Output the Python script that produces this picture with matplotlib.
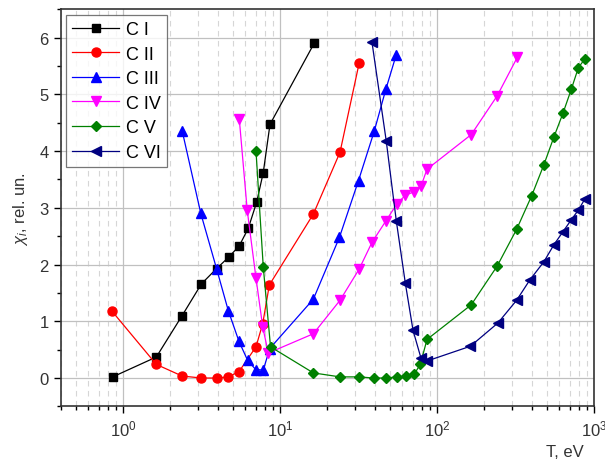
import matplotlib
matplotlib.use("Agg")
import matplotlib.pyplot as plt
from matplotlib.ticker import LogLocator, MultipleLocator, NullFormatter

plt.rcParams["font.family"] = ["Liberation Sans", "DejaVu Sans"]
plt.rcParams["mathtext.fontset"] = "custom"
plt.rcParams["mathtext.rm"] = "Liberation Sans"
plt.rcParams["mathtext.it"] = "Liberation Sans:italic"

# -------------------------------
# Data: ion fractions vs temperature
# -------------------------------
t_c1 = [0.86, 1.63, 2.38, 3.16, 3.95, 4.75, 5.5, 6.28, 7.1, 7.82, 8.63, 16.5]
y_c1 = [0.02, 0.37, 1.10, 1.66, 1.93, 2.14, 2.33, 2.64, 3.10, 3.62, 4.47, 5.90]

t_c2 = [0.85, 1.63, 2.38, 3.16, 3.95, 4.68, 5.47, 7.03, 7.76, 8.55, 16.3, 24.1, 31.9]
y_c2 = [1.18, 0.24, 0.035, 0.0, 0.0, 0.02, 0.11, 0.55, 0.96, 1.64, 2.89, 3.98, 5.55]

t_c3 = [2.38, 3.13, 3.95, 4.68, 5.47, 6.22, 7.0, 7.82, 8.6, 16.3, 23.9, 31.6, 39.8, 47.2, 55.0]
y_c3 = [4.36, 2.90, 1.92, 1.19, 0.65, 0.31, 0.15, 0.14, 0.52, 1.39, 2.48, 3.48, 4.35, 5.09, 5.70]

t_c4 = [5.5, 6.18, 7.03, 7.76, 8.42, 16.3, 24.1, 31.9, 38.5, 47.0, 55.5, 62.8, 71.0, 79.0, 86.3,
        165, 241, 324]
y_c4 = [4.57, 2.96, 1.76, 0.90, 0.44, 0.78, 1.37, 1.92, 2.39, 2.76, 3.07, 3.22, 3.28, 3.38, 3.68,
        4.29, 4.97, 5.65]

t_c5 = [7.03, 7.82, 8.7, 16.3, 24.1, 31.9, 39.4, 47.5, 55.6, 63.4, 71.6, 78.2, 86.3,
        165, 241, 321, 400, 479, 555, 634, 716, 794, 871]
y_c5 = [4.00, 1.96, 0.55, 0.09, 0.02, 0.02, 0.0, 0.0, 0.02, 0.03, 0.07, 0.24, 0.68,
        1.29, 1.97, 2.62, 3.21, 3.76, 4.25, 4.67, 5.09, 5.47, 5.62]

t_c6 = [38.5, 47.5, 55.0, 62.8, 70.3, 79.0, 86.3, 163, 244, 321, 390, 479, 555, 634, 716, 794, 871]
y_c6 = [5.92, 4.17, 2.77, 1.67, 0.84, 0.35, 0.30, 0.56, 0.97, 1.37, 1.73, 2.05, 2.35, 2.58,
        2.79, 2.96, 3.15]

series = [
    ("C I", t_c1, y_c1, "black", "s"),
    ("C II", t_c2, y_c2, "#ff0000", "o"),
    ("C III", t_c3, y_c3, "#0000ff", "^"),
    ("C IV", t_c4, y_c4, "#ff00ff", "v"),
    ("C V", t_c5, y_c5, "#008000", "D"),
    ("C VI", t_c6, y_c6, "#000080", "<"),
]

# -------------------------------
# Figure
# -------------------------------
fig = plt.figure(figsize=(6.05, 4.64), dpi=100)
ax = fig.add_axes([0.1, 0.122, 0.882, 0.856])

for name, t, y, col, mk in series:
    ms = 5.5 if mk in ("s", "D") else 6.5
    ax.plot(t, y, color=col, marker=mk, markersize=ms, linewidth=0.9,
            markeredgecolor=col, markerfacecolor=col, label=name)

ax.set_xscale("log")
ax.set_xlim(0.4, 1000)
ax.set_ylim(-0.5, 6.5)

ax.xaxis.set_major_locator(LogLocator(base=10))
ax.xaxis.set_minor_locator(LogLocator(base=10, subs=range(2, 10)))
ax.xaxis.set_minor_formatter(NullFormatter())
ax.yaxis.set_major_locator(MultipleLocator(1))
ax.yaxis.set_minor_locator(MultipleLocator(0.5))

ax.grid(True, which="major", color="#c0c0c0", linewidth=0.9)
ax.grid(True, which="minor", axis="x", color="#d6d6d6", linewidth=0.8, linestyle=(0, (5, 4)))
ax.set_axisbelow(True)

ax.tick_params(which="major", direction="out", length=5, width=1.0, labelsize=12,
               labelcolor="#333333")
ax.tick_params(which="minor", direction="out", length=3, width=1.0)
for s in ax.spines.values():
    s.set_linewidth(1.2)
    s.set_color("#333333")

ax.set_ylabel(r"$\chi_i$, rel. un.", fontsize=12, color="#333333")
ax.yaxis.set_label_coords(-0.058, 0.5)
ax.set_xlabel("T, eV", fontsize=12, color="#333333")
ax.xaxis.set_label_coords(0.945, -0.095)

leg = ax.legend(loc="upper left", bbox_to_anchor=(0.0, 1.0), fontsize=13,
                frameon=True, fancybox=False, edgecolor="#555555",
                handlelength=2.6, labelspacing=0.42, borderpad=0.35,
                handletextpad=0.35, borderaxespad=0.3)
leg.get_frame().set_linewidth(0.9)

fig.savefig("out.png", dpi=100)
